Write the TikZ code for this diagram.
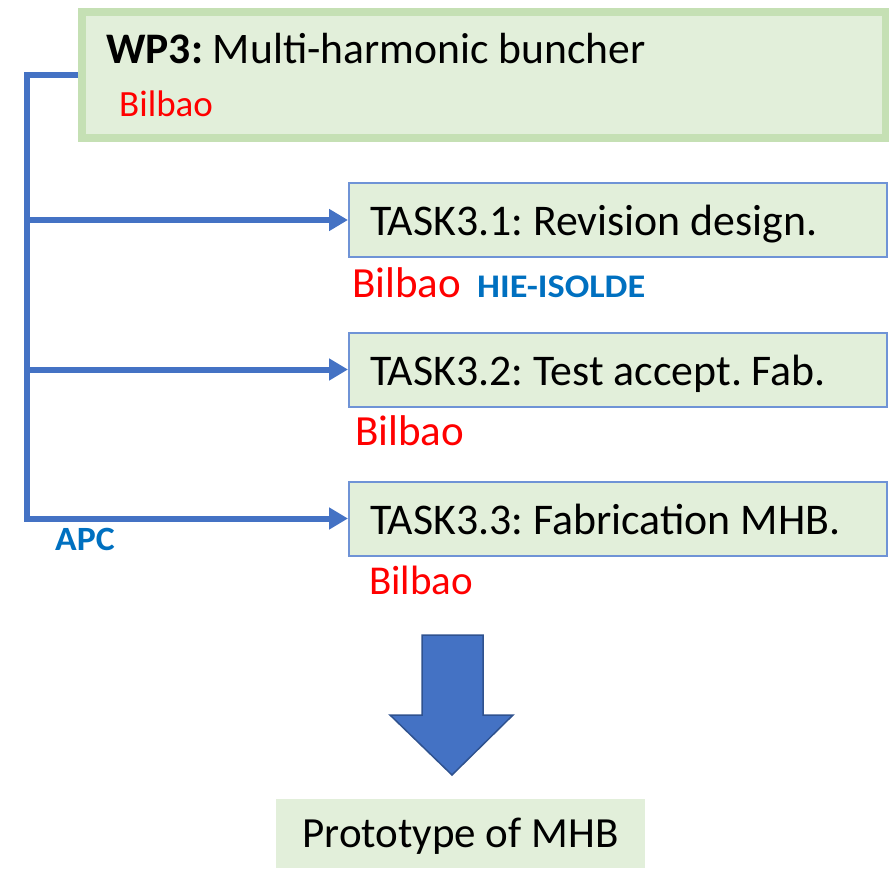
\documentclass[tikz,border=0pt]{standalone}
\usepackage{fontspec}
\usepackage{graphicx}
\setmainfont{Carlito}
\usetikzlibrary{arrows.meta}
\frenchspacing
\definecolor{boxfill}{HTML}{E2EFDA}
\definecolor{wpborder}{HTML}{C5E0B4}
\definecolor{taskborder}{HTML}{6F93D6}
\definecolor{conncol}{HTML}{4472C4}
\definecolor{bigarrowborder}{HTML}{2F528F}
\definecolor{redtxt}{HTML}{FF0000}
\definecolor{bluetxt}{HTML}{0070C0}
\tikzset{
  taskbox/.style={draw=taskborder, line width=2pt, fill=boxfill, anchor=west,
    inner xsep=21pt, inner ysep=0pt, text width=496pt, align=flush left,
    minimum height=74pt, text height=33pt, text depth=2pt,
    font=\fontsize{43.8}{50}\selectfont\frenchspacing},
  conn/.style={draw=conncol, line width=6pt, line join=miter},
  connarrow/.style={conn, -{Triangle[length=19pt,width=21pt]}},
  redlabel/.style={anchor=base west, inner sep=0pt, text=redtxt},
  bluelabel/.style={anchor=base west, inner sep=0pt, text=bluetxt, font=\bfseries},
}
\begin{document}
\begin{tikzpicture}[x=1pt,y=-1pt]
\useasboundingbox (0,0) rectangle (889,869);
% WP3 box
\node[draw=wpborder, line width=8pt, fill=boxfill, minimum width=803.5pt, minimum height=126pt, inner sep=0pt] (wp) at (483.75,75) {};
\node[anchor=base west, inner sep=0pt, font=\fontsize{43.6}{50}\selectfont\frenchspacing] (wptitle) at (106,64) {\textbf{WP3:} Multi-harmonic buncher};
\node[redlabel, font=\fontsize{37}{44}\selectfont] (wpbil) at (119,117) {Bilbao};
% tasks
\node[taskbox] (t1) at (348,220) {TASK3.1: Revision design.};
\node[taskbox] (t2) at (348,369.5) {TASK3.2: Test accept. Fab.};
\node[taskbox] (t3) at (348,518.5) {TASK3.3: Fabrication MHB.};
\node[redlabel, font=\fontsize{43}{50}\selectfont] (b1) at (352,297) {Bilbao};
\node[bluelabel] (hie) at (477,297) {\scalebox{1.1}[1]{\fontsize{33}{38}\selectfont\bfseries HIE-ISOLDE}};
\node[redlabel, font=\fontsize{43}{50}\selectfont] (b2) at (355,445) {Bilbao};
\node[redlabel, font=\fontsize{41}{48}\selectfont] (b3) at (369,594) {Bilbao};
\node[bluelabel] (apc) at (55,550) {\scalebox{1.05}[1]{\fontsize{34}{40}\selectfont\bfseries APC}};
% connectors
\coordinate (sp) at (26.5,0);
\draw[connarrow] (wp.west) -| (sp |- t3.west) -- (t3.west);
\draw[connarrow] (sp |- t1.west) -- (t1.west);
\draw[connarrow] (sp |- t2.west) -- (t2.west);
% big arrow
\draw[fill=conncol, draw=bigarrowborder, line width=1.5pt, line join=miter]
  (422,635) -- (483,635) -- (483,715) -- (513,715) -- (452,775) -- (390,715) -- (422,715) -- cycle;
% prototype
\node[fill=boxfill, minimum width=369pt, minimum height=69pt, inner sep=0pt,
  text height=29pt, text depth=2pt, font=\fontsize{43}{50}\selectfont] (proto) at (460.5,833.5) {Prototype of MHB};
\end{tikzpicture}
\end{document}
